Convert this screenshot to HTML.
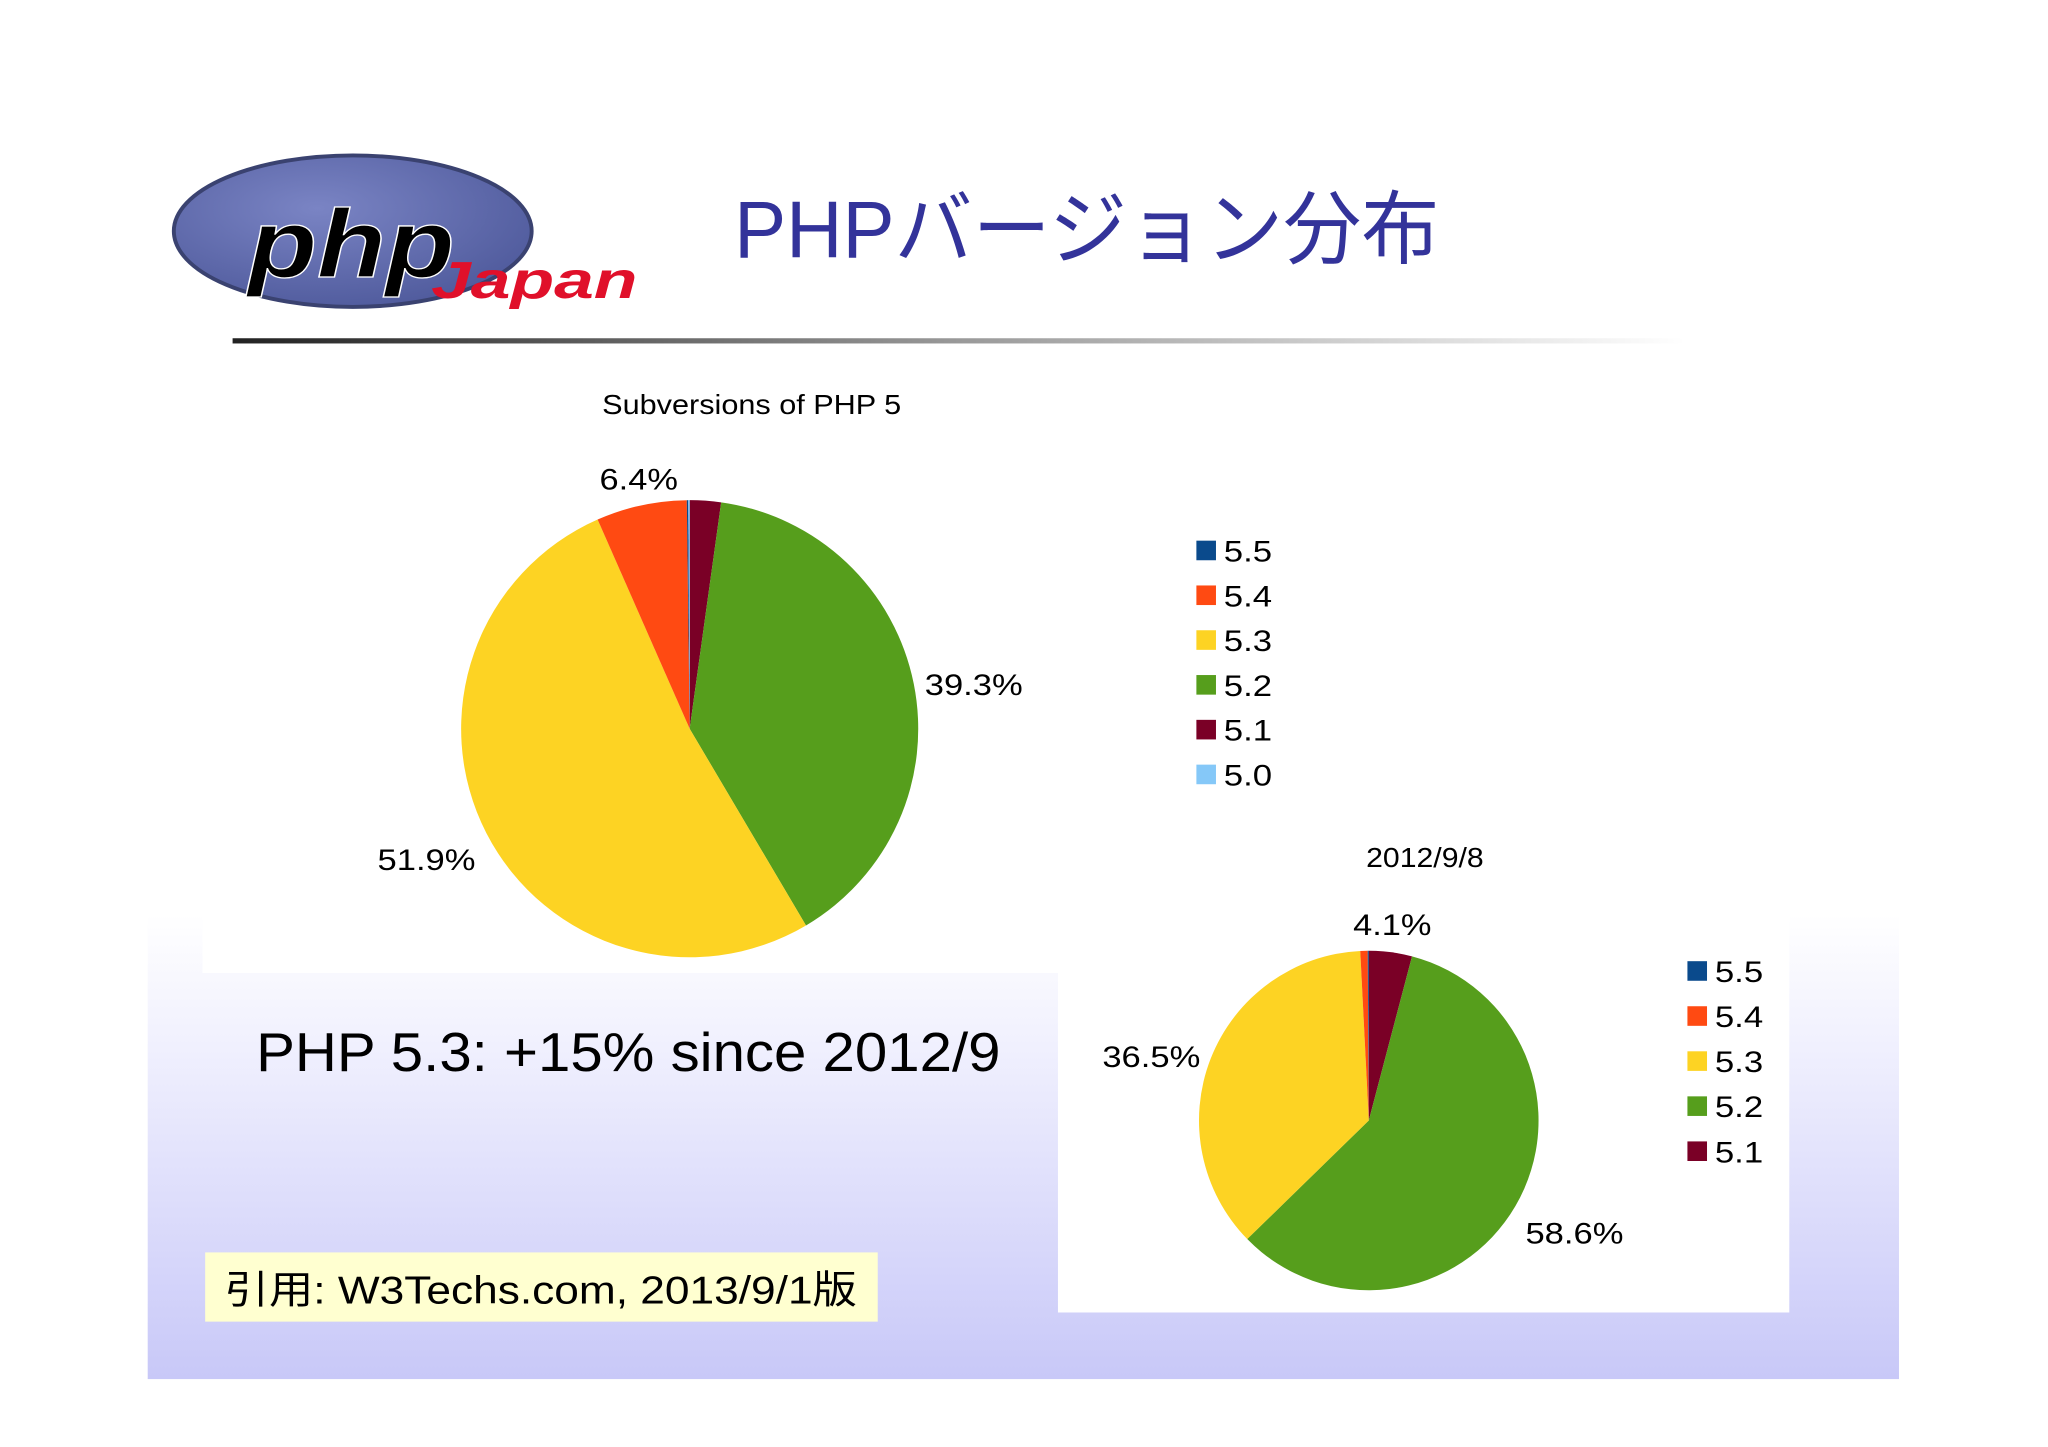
<!DOCTYPE html>
<html><head><meta charset="utf-8"><style>
html,body{margin:0;padding:0;background:#fff}
svg{display:block}
text{font-family:"Liberation Sans","Noto Sans CJK JP",sans-serif}
</style></head><body>
<svg id="s" width="2048" height="1447" viewBox="0 0 1568 1108">
<defs>
<linearGradient id="bg" x1="0" y1="0" x2="0" y2="1">
<stop offset="0" stop-color="#ffffff"/><stop offset="0.25" stop-color="#f2f2fe"/><stop offset="1" stop-color="#c8c8f8"/></linearGradient>
<linearGradient id="rule" x1="0" y1="0" x2="1" y2="0">
<stop offset="0" stop-color="#222"/><stop offset="0.5" stop-color="#999"/><stop offset="1" stop-color="#fff"/></linearGradient>
<radialGradient id="logo" cx="0.4" cy="0.35" r="0.7"><stop offset="0" stop-color="#7a84c4"/><stop offset="1" stop-color="#4f5a9c"/></radialGradient>
</defs>
<rect x="113" y="700" width="1341" height="356" fill="url(#bg)"/>
<rect x="155" y="280" width="655" height="465" fill="#fff"/>
<rect x="810" y="640" width="560" height="365" fill="#fff"/>
<g>
<ellipse cx="270" cy="177" rx="137" ry="58" fill="url(#logo)" stroke="#3a4270" stroke-width="3"/>
<text x="190" y="212" font-size="74" font-weight="bold" font-style="italic" fill="#000" stroke="#fff" stroke-width="1" textLength="158" lengthAdjust="spacingAndGlyphs">php</text>
<text x="330" y="228" font-size="40" font-weight="bold" font-style="italic" fill="#e0102a" textLength="158" lengthAdjust="spacingAndGlyphs">Japan</text>
</g>
<text x="562" y="197" font-size="62" fill="#33339a" textLength="540" lengthAdjust="spacingAndGlyphs">PHPバージョン分布</text>
<rect x="178" y="259" width="1112" height="4" fill="url(#rule)"/>
<text x="461" y="317" font-size="21" fill="#000" textLength="229" lengthAdjust="spacingAndGlyphs">Subversions of PHP 5</text>
<text x="1046" y="664" font-size="21" fill="#000" textLength="90" lengthAdjust="spacingAndGlyphs">2012/9/8</text>
<g id="pie1"></g><g id="pie2"></g>
<g id="leg1"></g><g id="leg2"></g>
<text x="459" y="375" font-size="23" textLength="60" lengthAdjust="spacingAndGlyphs">6.4%</text>
<text x="708" y="532" font-size="23" textLength="75" lengthAdjust="spacingAndGlyphs">39.3%</text>
<text x="289" y="666" font-size="23" textLength="75" lengthAdjust="spacingAndGlyphs">51.9%</text>
<text x="1036" y="716" font-size="23" textLength="60" lengthAdjust="spacingAndGlyphs">4.1%</text>
<text x="844" y="817" font-size="23" textLength="75" lengthAdjust="spacingAndGlyphs">36.5%</text>
<text x="1168" y="952" font-size="23" textLength="75" lengthAdjust="spacingAndGlyphs">58.6%</text>
<text x="196" y="820" font-size="42" fill="#000" textLength="570" lengthAdjust="spacingAndGlyphs">PHP 5.3: +15% since 2012/9</text>
<rect x="157" y="959" width="515" height="53" fill="#ffffd0"/>
<text x="172" y="998" font-size="30" fill="#000" textLength="484" lengthAdjust="spacingAndGlyphs">引用: W3Techs.com, 2013/9/1版</text>
</svg>
<script>
const versions1 = ["5.1","5.2","5.3","5.4","5.5","5.0"];
const values1 = [2.2,39.3,51.9,6.4,0.1,0.1];
const versions2 = ["5.1","5.2","5.3","5.4","5.5"];
const values2 = [4.1,58.6,36.5,0.7,0.1];
const legend1 = ["5.5","5.4","5.3","5.2","5.1","5.0"];
const legend2 = ["5.5","5.4","5.3","5.2","5.1"];
const colors = {"5.5":"#0a4a8c","5.4":"#ff4a12","5.3":"#fdd323","5.2":"#569e1c","5.1":"#7a0026","5.0":"#85c8f8"};
const NS="http://www.w3.org/2000/svg";
function pie(g,cats,vals,cx,cy,r){
  const tot=vals.reduce((a,b)=>a+b,0);let a0=0;
  cats.forEach((c,i)=>{
    const a1=a0+vals[i]/tot*2*Math.PI;
    const x0=cx+r*Math.sin(a0),y0=cy-r*Math.cos(a0),x1=cx+r*Math.sin(a1),y1=cy-r*Math.cos(a1);
    const p=document.createElementNS(NS,"path");
    p.setAttribute("d",`M${cx},${cy}L${x0},${y0}A${r},${r} 0 ${a1-a0>Math.PI?1:0} 1 ${x1},${y1}Z`);
    p.setAttribute("fill",colors[c]);
    
    
    g.appendChild(p);a0=a1;
  });
}
function legend(g,items,x,y0,dy){
  items.forEach((c,i)=>{
    const y=y0+i*dy;
    const r=document.createElementNS(NS,"rect");
    r.setAttribute("x",x);r.setAttribute("y",y-8);r.setAttribute("width",15);r.setAttribute("height",15);r.setAttribute("fill",colors[c]);
    
    
    g.appendChild(r);
    const t=document.createElementNS(NS,"text");
    t.setAttribute("x",x+21);t.setAttribute("y",y+8);t.setAttribute("font-size","23");
    t.setAttribute("textLength","37");t.setAttribute("lengthAdjust","spacingAndGlyphs");
    t.textContent=c;
    
    
    g.appendChild(t);
  });
}
pie(document.getElementById("pie1"),versions1,values1,528,558,175);
pie(document.getElementById("pie2"),versions2,values2,1048,858,130);
legend(document.getElementById("leg1"),legend1,916,422,34.3);
legend(document.getElementById("leg2"),legend2,1292,744,34.5);
</script>
</body></html>
